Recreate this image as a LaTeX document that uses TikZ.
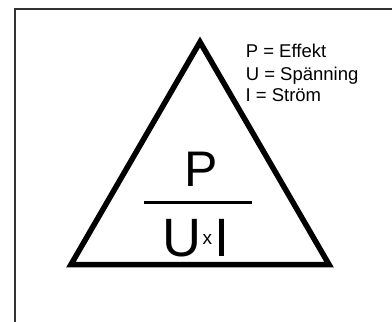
\documentclass[tikz,border=0pt]{standalone}
\usepackage{fontspec}
\setmainfont{Liberation Sans}
\begin{document}
\begin{tikzpicture}[x=1pt,y=-1pt,
  txt/.style={inner sep=0pt,anchor=base west,text=black},
  frameline/.style={draw=black!80,line width=1.6pt},
  tri/.style={draw=black,line width=5.5pt,line join=miter}]
\useasboundingbox[fill=white] (0,0) rectangle (392,322);
% frame
\coordinate (fc) at (15,9);
\coordinate (ftr) at (392,9);
\coordinate (fbl) at (15,322);
\draw[frameline] (ftr) -- (fc) -- (fbl);
% triangle
\coordinate (apex) at (200,42);
\coordinate (bl) at (71,264.5);
\coordinate (br) at (329,264.5);
\draw[tri] (apex) -- (bl) -- (br) -- cycle;
% legend
\node[txt,font=\fontsize{18.5}{18.5}\selectfont] (l1) at (245.6,57) {P = Effekt};
\node[txt,font=\fontsize{18.5}{18.5}\selectfont] (l2) at (245.6,80) {U = Spänning};
\node[txt,font=\fontsize{18.5}{18.5}\selectfont] (l3) at (245.4,101.7) {I = Ström};
% formula
\node[txt,font=\fontsize{50}{50}\selectfont] (P) at (184,186) {P};
\coordinate (fl) at (144,202.5);
\coordinate (fr) at (252,202.5);
\draw[line width=2.5pt] (fl) -- (fr);
\node[txt,font=\fontsize{54}{54}\selectfont] (U) at (162.4,256.5) {U};
\node[txt,font=\fontsize{19}{19}\selectfont] (x) at (202.5,244) {x};
\node[txt,font=\fontsize{54}{54}\selectfont] (I) at (214,256.5) {I};
\end{tikzpicture}
\end{document}
